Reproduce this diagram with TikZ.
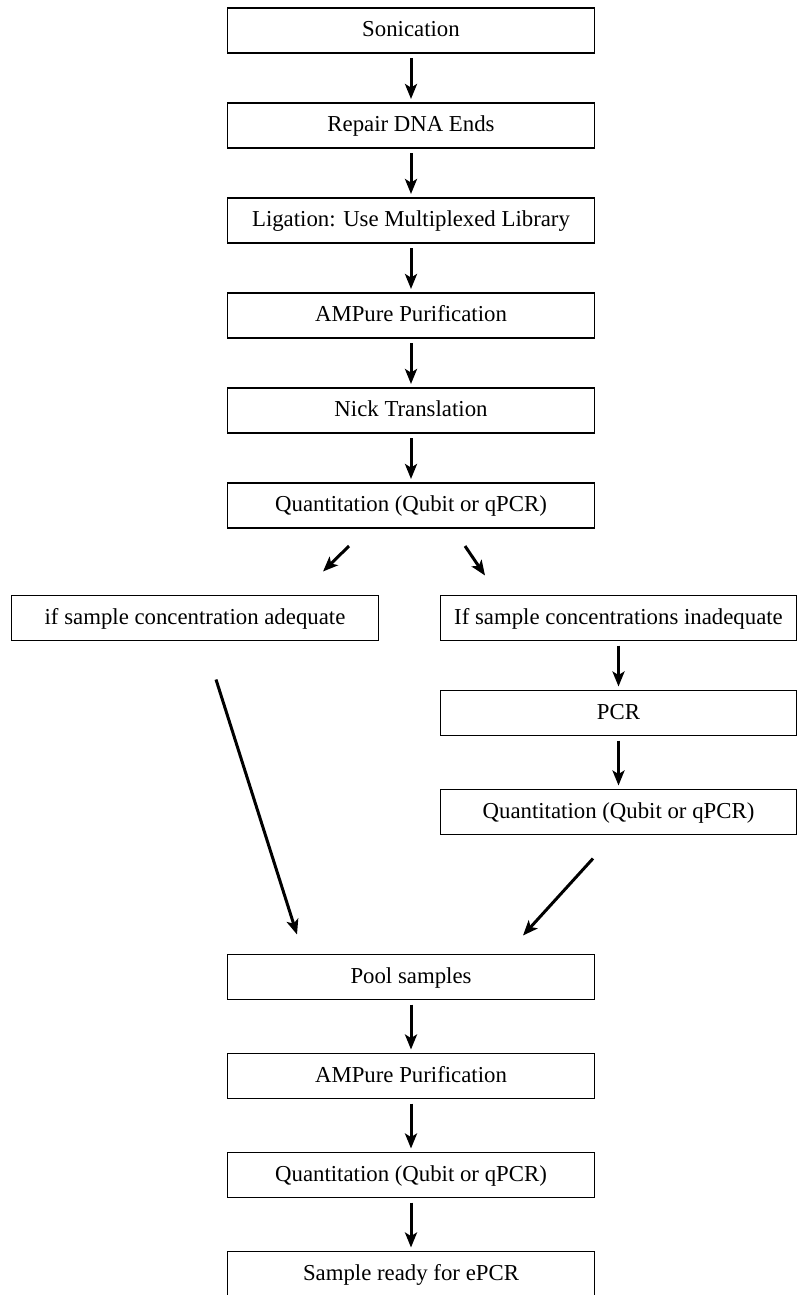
\documentclass[tikz,border=0pt]{standalone}
\usepackage{fontspec}
\setmainfont{Liberation Serif}
\usepackage{tikz}
\usetikzlibrary{arrows.meta, positioning}
\tikzset{stepbox/.style={rectangle,draw,line width=0.65pt,outer sep=0pt,minimum width=183.5pt,minimum height=22.5pt,inner sep=0pt,align=center,font=\fontsize{11.4}{13}\selectfont,text height=0.78em,text depth=0.14em},
         sidebox/.style={stepbox,minimum width=178pt},
         arrow/.style={-{Stealth[length=7.5pt,width=6pt,inset=1.8pt]},line width=1.5pt},
         flow/.style={arrow,shorten <=2.5pt,shorten >=2pt}}

\begin{document}
\begin{tikzpicture}[x=0.5pt,y=-0.5pt,node distance=25pt]
    \useasboundingbox (0,0) rectangle (797,1295);
    \node (son) [stepbox] at (411,30.5) {Sonication};
    \node (rep) [stepbox, below=of son] {Repair DNA Ends};
    \node (lig) [stepbox, below=of rep] {Ligation: Use Multiplexed Library};
    \node (amp1) [stepbox, below=of lig] {AMPure Purification};
    \node (nick) [stepbox, below=of amp1] {Nick Translation};
    \node (q1) [stepbox, below=of nick] {Quantitation (Qubit or qPCR)};
    \node (adeq) [stepbox, below=33.75pt of q1, xshift=-108pt] {if sample concentration adequate};
    \node (inad) [sidebox, below=33.75pt of q1, xshift=103.75pt] {If sample concentrations inadequate};
    \node (pcr) [sidebox, below=of inad] {PCR};
    \node (q2) [sidebox, below=27pt of pcr] {Quantitation (Qubit or qPCR)};
    \node (pool) [stepbox, below=213.25pt of q1] {Pool samples};
    \node (amp2) [stepbox, below=27pt of pool] {AMPure Purification};
    \node (q3) [stepbox, below=27pt of amp2] {Quantitation (Qubit or qPCR)};
    \node (ready) [stepbox, below=27pt of q3] {Sample ready for ePCR};
    \foreach \a/\b in {son/rep,rep/lig,lig/amp1,amp1/nick,nick/q1,inad/pcr,pcr/q2,pool/amp2,amp2/q3,q3/ready} {\draw[flow] (\a) -- (\b);}
    % split and merge
    \draw[arrow] ([xshift=-31pt,yshift=-9pt]q1.south) -- ([xshift=64pt,yshift=12pt]adeq.north);
    \draw[arrow] ([xshift=27pt,yshift=-9pt]q1.south) -- ([xshift=-66.75pt,yshift=10pt]inad.north);
    \draw[arrow] ([xshift=10.5pt,yshift=-19.5pt]adeq.south) -- ([xshift=-57pt,yshift=10pt]pool.north);
    \draw[arrow] ([xshift=-12.75pt,yshift=-12pt]q2.south) -- ([xshift=56pt,yshift=9.5pt]pool.north);
  \end{tikzpicture}
\end{document}
